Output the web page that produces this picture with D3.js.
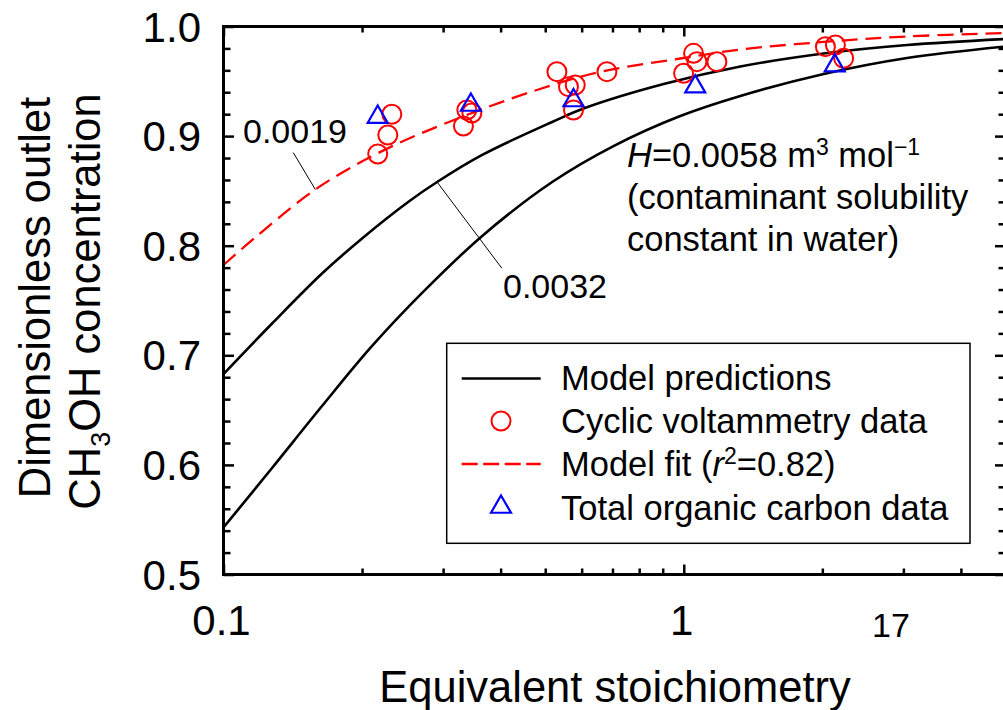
<!DOCTYPE html>
<html>
<head>
<meta charset="utf-8">
<script src="https://cdn.jsdelivr.net/npm/d3@7"></script>
<style>
  html, body { margin: 0; padding: 0; background: #fff; }
  svg { display: block; font-family: "Liberation Sans", Arial, Helvetica, sans-serif; }
</style>
</head>
<body>
<svg id="chart" width="1003" height="710"></svg>
<script>
// Outlet CH3OH concentration versus equivalent stoichiometry

// Model prediction, H = 0.0032
const predAX = [0.1, 0.1275, 0.1637, 0.2, 0.2527, 0.2911, 0.3648, 0.5177, 0.6058, 0.904, 1.327, 2.014, 3.056, 5];
const predAY = [0.6829, 0.7290, 0.7746, 0.8066, 0.8403, 0.8581, 0.8828, 0.9129, 0.9252, 0.9475, 0.9635, 0.9754, 0.9831, 0.9886];

// Model prediction, H = 0.0058
const predBX = [0.1, 0.1275, 0.1637, 0.2103, 0.2701, 0.3648, 0.5177, 0.7036, 0.9826, 1.327, 2.014, 3.056, 5];
const predBY = [0.5429, 0.5972, 0.6537, 0.7085, 0.7569, 0.8089, 0.8581, 0.8909, 0.9183, 0.9366, 0.9567, 0.9713, 0.9818];

// Model fit to the voltammetry data, H = 0.0019
const fitX = [0.1, 0.1172, 0.1583, 0.2157, 0.3030, 0.4716, 0.6583, 0.9826, 1.327, 2.014, 3.056, 5];
const fitY = [0.7824, 0.8075, 0.8513, 0.8841, 0.9115, 0.9411, 0.9585, 0.9708, 0.9790, 0.9859, 0.9909, 0.9941];

// Cyclic voltammetry data
const cvX = [0.2163, 0.2275, 0.2321, 0.3321, 0.3378, 0.3464, 0.5301, 0.5617, 0.5810, 0.5760, 0.6808, 0.9991, 1.050, 1.068, 1.180, 2.031, 2.135, 2.225];
const cvY = [0.8837, 0.9010, 0.9199, 0.9092, 0.9238, 0.9211, 0.9588, 0.9451, 0.9466, 0.9238, 0.9588, 0.9573, 0.9755, 0.9679, 0.9679, 0.9816, 0.9831, 0.9710];

// Total organic carbon data
const tocX = [0.2163, 0.3447, 0.5760, 1.059, 2.128];
const tocY = [0.9174, 0.9284, 0.9325, 0.9451, 0.9643];

// Axis ticks
const xMajorTicks = [0.1, 1];
const xMinorTicks = [0.2, 0.3, 0.4, 0.5, 0.6, 0.7, 0.8, 0.9, 2, 3, 4];
const xTickLabels = ["0.1", "1"];
const yMajorTicks = [0.5, 0.6, 0.7, 0.8, 0.9, 1.0];
const yMinorTicks = [0.52, 0.54, 0.56, 0.58, 0.62, 0.64, 0.66, 0.68, 0.72, 0.74, 0.76, 0.78,
                     0.82, 0.84, 0.86, 0.88, 0.92, 0.94, 0.96, 0.98];
const yTickLabels = ["0.5", "0.6", "0.7", "0.8", "0.9", "1.0"];

const svg = d3.select("#chart");
svg.append("rect").attr("width", 1003).attr("height", 710).attr("fill", "#fff");

const pLeft = 223.5, pRight = 1005.5, pTop = 26.5, pBottom = 574.5;
const x = d3.scaleLog().domain([0.1, 5]).range([pLeft, pRight]);
const y = d3.scaleLinear().domain([0.5, 1.0]).range([pBottom, pTop]);

// clip for curves
svg.append("defs").append("clipPath").attr("id", "plot")
  .append("rect").attr("x", pLeft).attr("y", pTop)
  .attr("width", pRight - pLeft).attr("height", pBottom - pTop);

const plot = svg.append("g").attr("clip-path", "url(#plot)");

const line = d3.line().x(d => x(d[0])).y(d => y(d[1])).curve(d3.curveCatmullRom.alpha(0.5));
const zip = (a, b) => a.map((v, i) => [v, b[i]]);

plot.append("path").datum(zip(predAX, predAY)).attr("d", line)
  .attr("fill", "none").attr("stroke", "#000").attr("stroke-width", 2.6);
plot.append("path").datum(zip(predBX, predBY)).attr("d", line)
  .attr("fill", "none").attr("stroke", "#000").attr("stroke-width", 2.6);
plot.append("path").datum(zip(fitX, fitY)).attr("d", line)
  .attr("fill", "none").attr("stroke", "#ff0000").attr("stroke-width", 2.3)
  .attr("stroke-dasharray", "16,8");

// leader lines for curve labels
const leaders = [
  [[0.1418, 0.8849], [0.1583, 0.8513]],
  [[0.2911, 0.8581], [0.4025, 0.7794]]
];
svg.selectAll("line.leader").data(leaders).join("line").attr("class", "leader")
  .attr("x1", d => x(d[0][0])).attr("y1", d => y(d[0][1]))
  .attr("x2", d => x(d[1][0])).attr("y2", d => y(d[1][1]))
  .attr("stroke", "#000").attr("stroke-width", 1);

// data markers
svg.append("g").selectAll("circle").data(zip(cvX, cvY)).join("circle")
  .attr("cx", d => x(d[0])).attr("cy", d => y(d[1])).attr("r", 9.5)
  .attr("fill", "none").attr("stroke", "#ff0000").attr("stroke-width", 2);

const tri = d3.symbol(d3.symbolTriangle, 173);
svg.append("g").selectAll("path").data(zip(tocX, tocY)).join("path")
  .attr("d", tri).attr("transform", d => `translate(${x(d[0])},${y(d[1])})`)
  .attr("fill", "none").attr("stroke", "#0000ff").attr("stroke-width", 2.2);

// ticks (pointing inward) on all four sides
function ticks(axisFn, scale, values, size, tr) {
  const g = svg.append("g").attr("transform", tr)
    .call(axisFn(scale).tickValues(values).tickSize(size).tickFormat(""));
  g.select(".domain").remove();
  g.selectAll(".tick line").attr("stroke", "#000").attr("stroke-width", 2.5);
}
ticks(d3.axisBottom, x, xMajorTicks, -10, `translate(0,${pBottom})`);
ticks(d3.axisBottom, x, xMinorTicks, -6, `translate(0,${pBottom})`);
ticks(d3.axisTop, x, xMajorTicks, -10, `translate(0,${pTop})`);
ticks(d3.axisTop, x, xMinorTicks, -6, `translate(0,${pTop})`);
ticks(d3.axisLeft, y, yMajorTicks, -10.5, `translate(${pLeft},0)`);
ticks(d3.axisLeft, y, yMinorTicks, -7, `translate(${pLeft},0)`);
ticks(d3.axisRight, y, yMajorTicks, -10.5, `translate(${pRight},0)`);
ticks(d3.axisRight, y, yMinorTicks, -7, `translate(${pRight},0)`);

// frame
svg.append("rect").attr("x", pLeft).attr("y", pTop)
  .attr("width", pRight - pLeft).attr("height", pBottom - pTop)
  .attr("fill", "none").attr("stroke", "#000").attr("stroke-width", 3);

// tick labels
svg.append("g").selectAll("text").data(yMajorTicks).join("text")
  .attr("x", 201).attr("y", d => y(d)).attr("dy", "0.36em")
  .attr("text-anchor", "end").attr("font-size", 42)
  .text((d, i) => yTickLabels[i]);
svg.append("g").selectAll("text").data(xMajorTicks).join("text")
  .attr("x", d => x(d) - 2).attr("y", 635)
  .attr("text-anchor", "middle").attr("font-size", 42)
  .text((d, i) => xTickLabels[i]);
svg.append("text").attr("x", 891).attr("y", 637).attr("text-anchor", "middle")
  .attr("font-size", 34).text("17");

// axis titles
svg.append("text").attr("x", 615).attr("y", 702).attr("text-anchor", "middle")
  .attr("font-size", 43.5).text("Equivalent stoichiometry");

svg.append("text").attr("transform", "translate(50,297.5) rotate(-90)")
  .attr("text-anchor", "middle").attr("font-size", 43.5).text("Dimensionless outlet");
const yt2 = svg.append("text").attr("transform", "translate(100,301.5) rotate(-90)")
  .attr("text-anchor", "middle").attr("font-size", 43.5);
yt2.append("tspan").text("CH");
yt2.append("tspan").attr("font-size", 27).attr("dy", 10).text("3");
yt2.append("tspan").attr("dy", -10).text("OH concentration");

// curve labels
svg.append("text").attr("x", 243).attr("y", 143).attr("font-size", 34).text("0.0019");
svg.append("text").attr("x", 503).attr("y", 298).attr("font-size", 34).text("0.0032");

// solubility constant note
const note = svg.append("g").attr("font-size", 34.5);
const n1 = note.append("text").attr("x", 627).attr("y", 166.5);
n1.append("tspan").attr("font-style", "italic").text("H");
n1.append("tspan").text("=0.0058 m");
n1.append("tspan").attr("font-size", 23).attr("dy", -12).text("3");
n1.append("tspan").attr("dy", 12).text(" mol");
n1.append("tspan").attr("font-size", 23).attr("dy", -12).text("\u22121");
note.append("text").attr("x", 627).attr("y", 208.5).text("(contaminant solubility");
note.append("text").attr("x", 627).attr("y", 251).text("constant in water)");

// legend
const lg = svg.append("g");
lg.append("rect").attr("x", 446.7).attr("y", 343.3).attr("width", 523.3).attr("height", 200)
  .attr("fill", "#fff").attr("stroke", "#000").attr("stroke-width", 1.5);
const rows = [378.5, 421, 464, 507];
const tx = 561;
lg.append("line").attr("x1", 461.7).attr("x2", 540.7).attr("y1", rows[0]).attr("y2", rows[0])
  .attr("stroke", "#000").attr("stroke-width", 2.5);
lg.append("circle").attr("cx", 501).attr("cy", rows[1]).attr("r", 9.5)
  .attr("fill", "none").attr("stroke", "#ff0000").attr("stroke-width", 2);
lg.append("line").attr("x1", 461.7).attr("x2", 540.7).attr("y1", rows[2]).attr("y2", rows[2])
  .attr("stroke", "#ff0000").attr("stroke-width", 2.3).attr("stroke-dasharray", "16,5.5");
lg.append("path").attr("d", tri).attr("transform", `translate(501,${rows[3]})`)
  .attr("fill", "none").attr("stroke", "#0000ff").attr("stroke-width", 2.2);

const lt = lg.append("g").attr("font-size", 34.5);
lt.append("text").attr("x", tx).attr("y", rows[0] + 11).text("Model predictions");
lt.append("text").attr("x", tx).attr("y", rows[1] + 11.5).text("Cyclic voltammetry data");
const fitLabel = lt.append("text").attr("x", tx).attr("y", rows[2] + 12);
fitLabel.append("tspan").text("Model fit (");
fitLabel.append("tspan").attr("font-style", "italic").text("r");
fitLabel.append("tspan").attr("font-size", 23).attr("dy", -12).text("2");
fitLabel.append("tspan").attr("dy", 12).text("=0.82)");
lt.append("text").attr("x", tx).attr("y", rows[3] + 12.5).text("Total organic carbon data");
</script>
</body>
</html>
